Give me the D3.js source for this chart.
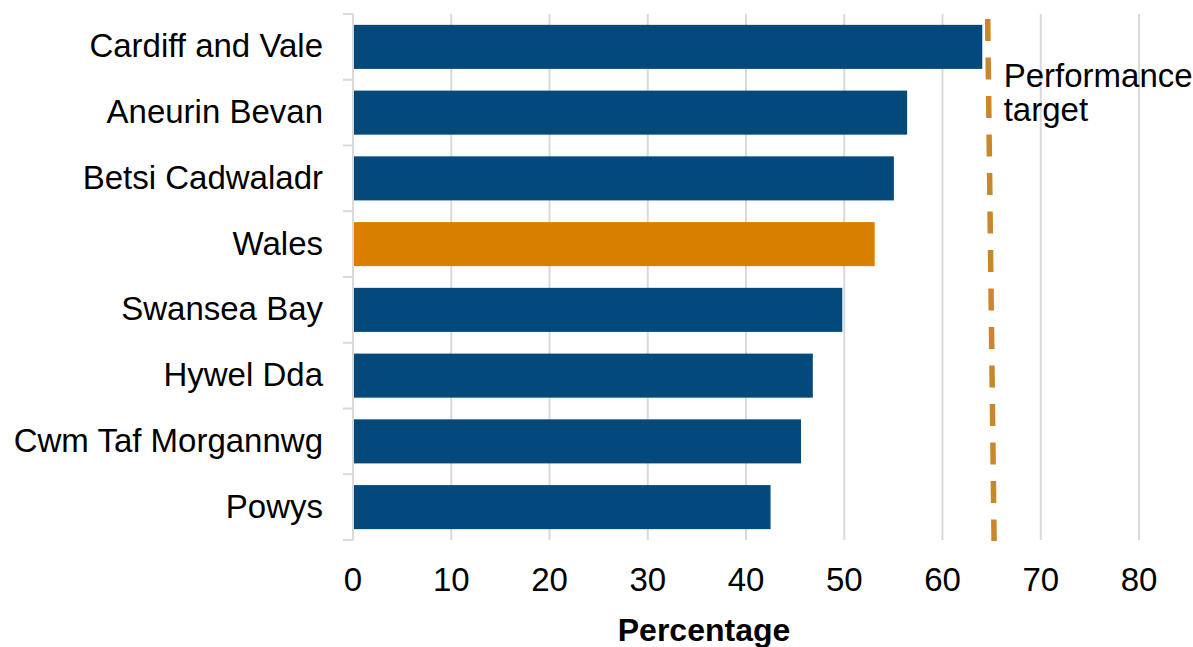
<!DOCTYPE html>
<html>
<head>
<meta charset="utf-8">
<script src="https://cdn.jsdelivr.net/npm/d3@7"></script>
<style>
  body { margin: 0; background: #fff; }
  text { font-family: "Liberation Sans", Arial, sans-serif; fill: #000; }
</style>
</head>
<body>
<script>
// Health boards, top to bottom
const boards = ["Cardiff and Vale", "Aneurin Bevan", "Betsi Cadwaladr", "Wales",
    "Swansea Bay", "Hywel Dda", "Cwm Taf Morgannwg", "Powys"];
const values = [64.05, 56.4, 55.05, 53.1, 49.8, 46.8, 45.6, 42.5];
const xTicks = [0, 10, 20, 30, 40, 50, 60, 70, 80];
// performance target line, as drawn (top end, bottom end)
const targetLine = [64.6, 65.25];
const targetLabel = ["Performance", "target"];

const width = 1193, height = 647;
const margin = { top: 14, right: 54, bottom: 107, left: 353 };
const innerW = width - margin.left - margin.right;
const innerH = height - margin.top - margin.bottom;

const svg = d3.select("body")
    .append("svg")
    .attr("width", width)
    .attr("height", height);

const g = svg.append("g")
    .attr("transform", `translate(${margin.left},${margin.top})`);

const x = d3.scaleLinear().domain([0, 80]).range([0, innerW]);
const y = d3.scaleBand().domain(boards).range([0, innerH]).paddingInner(0.33).paddingOuter(0.165);

// vertical gridlines
g.append("g")
    .selectAll("line")
    .data(xTicks.slice(1))
    .join("line")
    .attr("x1", d => x(d)).attr("x2", d => x(d))
    .attr("y1", 0).attr("y2", innerH)
    .attr("stroke", "#d9d9d9")
    .attr("stroke-width", 2);

// x tick labels
g.append("g")
    .selectAll("text")
    .data(xTicks)
    .join("text")
    .attr("x", d => x(d))
    .attr("y", innerH + 51)
    .attr("text-anchor", "middle")
    .style("font-size", "33px")
    .text(d => d);

// left axis line with category boundary ticks
const bounds = d3.range(boards.length + 1).map(i => i * innerH / boards.length);
g.append("line")
    .attr("x1", 0).attr("x2", 0)
    .attr("y1", 0).attr("y2", innerH)
    .attr("stroke", "#d9d9d9")
    .attr("stroke-width", 2);
g.append("g")
    .selectAll("line")
    .data(bounds)
    .join("line")
    .attr("x1", -10).attr("x2", 0)
    .attr("y1", d => d).attr("y2", d => d)
    .attr("stroke", "#d9d9d9")
    .attr("stroke-width", 2);

// bars
g.append("g")
    .selectAll("rect")
    .data(boards)
    .join("rect")
    .attr("x", 1)
    .attr("y", d => y(d))
    .attr("width", (d, i) => x(values[i]) - 1)
    .attr("height", y.bandwidth())
    .attr("fill", d => d === "Wales" ? "#d97f00" : "#03497c");

// category labels
g.append("g")
    .selectAll("text")
    .data(boards)
    .join("text")
    .attr("x", -30)
    .attr("y", d => y(d) + y.bandwidth() / 2)
    .attr("dy", "0.32em")
    .attr("text-anchor", "end")
    .style("font-size", "33px")
    .text(d => d);

// performance target dashed line
g.append("line")
    .attr("x1", x(targetLine[0])).attr("x2", x(targetLine[1]))
    .attr("y1", 5).attr("y2", innerH + 1)
    .attr("stroke", "#c9862a")
    .attr("stroke-width", 5.5)
    .attr("stroke-dasharray", "22,16.5");

g.append("text")
    .attr("x", x(targetLine[0]) + 16)
    .attr("y", 73)
    .style("font-size", "33px")
    .selectAll("tspan")
    .data(targetLabel)
    .join("tspan")
    .attr("x", x(targetLine[0]) + 16)
    .attr("dy", (d, i) => i === 0 ? 0 : 34)
    .text(d => d);

// axis title
svg.append("text")
    .attr("x", 704)
    .attr("y", 641)
    .attr("text-anchor", "middle")
    .style("font-size", "32px")
    .style("font-weight", "bold")
    .text("Percentage");
</script>
</body>
</html>
